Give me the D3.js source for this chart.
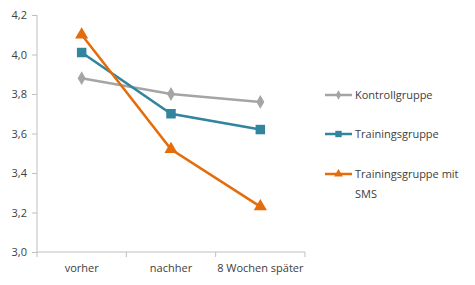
<!DOCTYPE html>
<html><head><meta charset="utf-8">
<script src="https://cdn.jsdelivr.net/npm/d3@7"></script>
<style>body{margin:0;background:#fff}svg{display:block}text{font-family:"Open Sans","Liberation Sans",sans-serif;fill:#404040}</style>
</head><body><svg id="c" width="475" height="285"></svg>
<script>
const categories = ["vorher", "nachher", "8 Wochen später"];
const kontroll = [3.88, 3.80, 3.76];
const training = [4.01, 3.70, 3.62];
const trainingSMS = [4.10, 3.52, 3.23];
const seriesNames = ["Kontrollgruppe", "Trainingsgruppe", "Trainingsgruppe mit SMS"];
const yTicks = [3.0, 3.2, 3.4, 3.6, 3.8, 4.0, 4.2];

const series = [
  {name: seriesNames[0], values: kontroll, color: "#A5A5A5", sym: d3.symbolDiamond, size: 55, lw: 2.5},
  {name: seriesNames[1], values: training, color: "#31859C", sym: d3.symbolSquare, size: 90, lw: 2.5},
  {name: seriesNames[2], values: trainingSMS, color: "#E46C0A", sym: d3.symbolTriangle, size: 75, lw: 2.5}
];

const svg = d3.select("#c");
const x = d3.scaleBand().domain(categories).range([37, 305]);
const y = d3.scaleLinear().domain([3.0, 4.2]).range([252, 15]);
const fmt = d => d.toFixed(1).replace(".", ",");

// y axis
const ya = svg.append("g").attr("transform", "translate(37,0)")
  .call(d3.axisLeft(y).tickValues(yTicks).tickFormat(fmt).tickSize(5).tickPadding(5));
ya.select(".domain").attr("stroke", "#BFBFBF").attr("d", "M0,15V252");
ya.selectAll(".tick line").attr("stroke", "#BFBFBF");
ya.selectAll(".tick text").attr("font-size", 11).attr("fill", "#404040");

// x axis
const xa = svg.append("g").attr("transform", "translate(0,252)")
  .call(d3.axisBottom(x).tickSize(0).tickPadding(12));
xa.select(".domain").attr("stroke", "#BFBFBF").attr("d", "M37,0H305");
xa.selectAll(".tick text").attr("font-size", 11).attr("fill", "#404040");
const bounds = [37].concat(categories.map(c => x(c) + x.bandwidth()));
svg.append("g").selectAll("line").data(bounds).join("line")
  .attr("x1", d => d).attr("x2", d => d).attr("y1", 252).attr("y2", 257)
  .attr("stroke", "#BFBFBF");

const cx = c => x(c) + x.bandwidth() / 2;
const line = d3.line().x((d, i) => cx(categories[i])).y(d => y(d));

series.forEach(s => {
  svg.append("path").attr("d", line(s.values)).attr("fill", "none")
    .attr("stroke", s.color).attr("stroke-width", s.lw);
  svg.append("g").selectAll("path").data(s.values).join("path")
    .attr("d", d3.symbol().type(s.sym).size(s.size))
    .attr("transform", (d, i) => `translate(${cx(categories[i])},${y(d)})`)
    .attr("fill", s.color);
});

// legend
const legY = [95, 134, 174];
series.forEach((s, i) => {
  const g = svg.append("g").attr("transform", `translate(325,${legY[i]})`);
  g.append("line").attr("x1", 0).attr("x2", 27).attr("stroke", s.color).attr("stroke-width", 2.5);
  g.append("path").attr("d", d3.symbol().type(s.sym).size(s.size * 0.45)).attr("transform", "translate(13.5,0)").attr("fill", s.color);
  const t = g.append("text").attr("x", 30).attr("y", 4).attr("font-size", 11);
  if (i === 2) {
    t.append("tspan").attr("x", 30).text("Trainingsgruppe mit");
    t.append("tspan").attr("x", 30).attr("dy", 20).text("SMS");
  } else t.text(s.name);
});
</script></body></html>
